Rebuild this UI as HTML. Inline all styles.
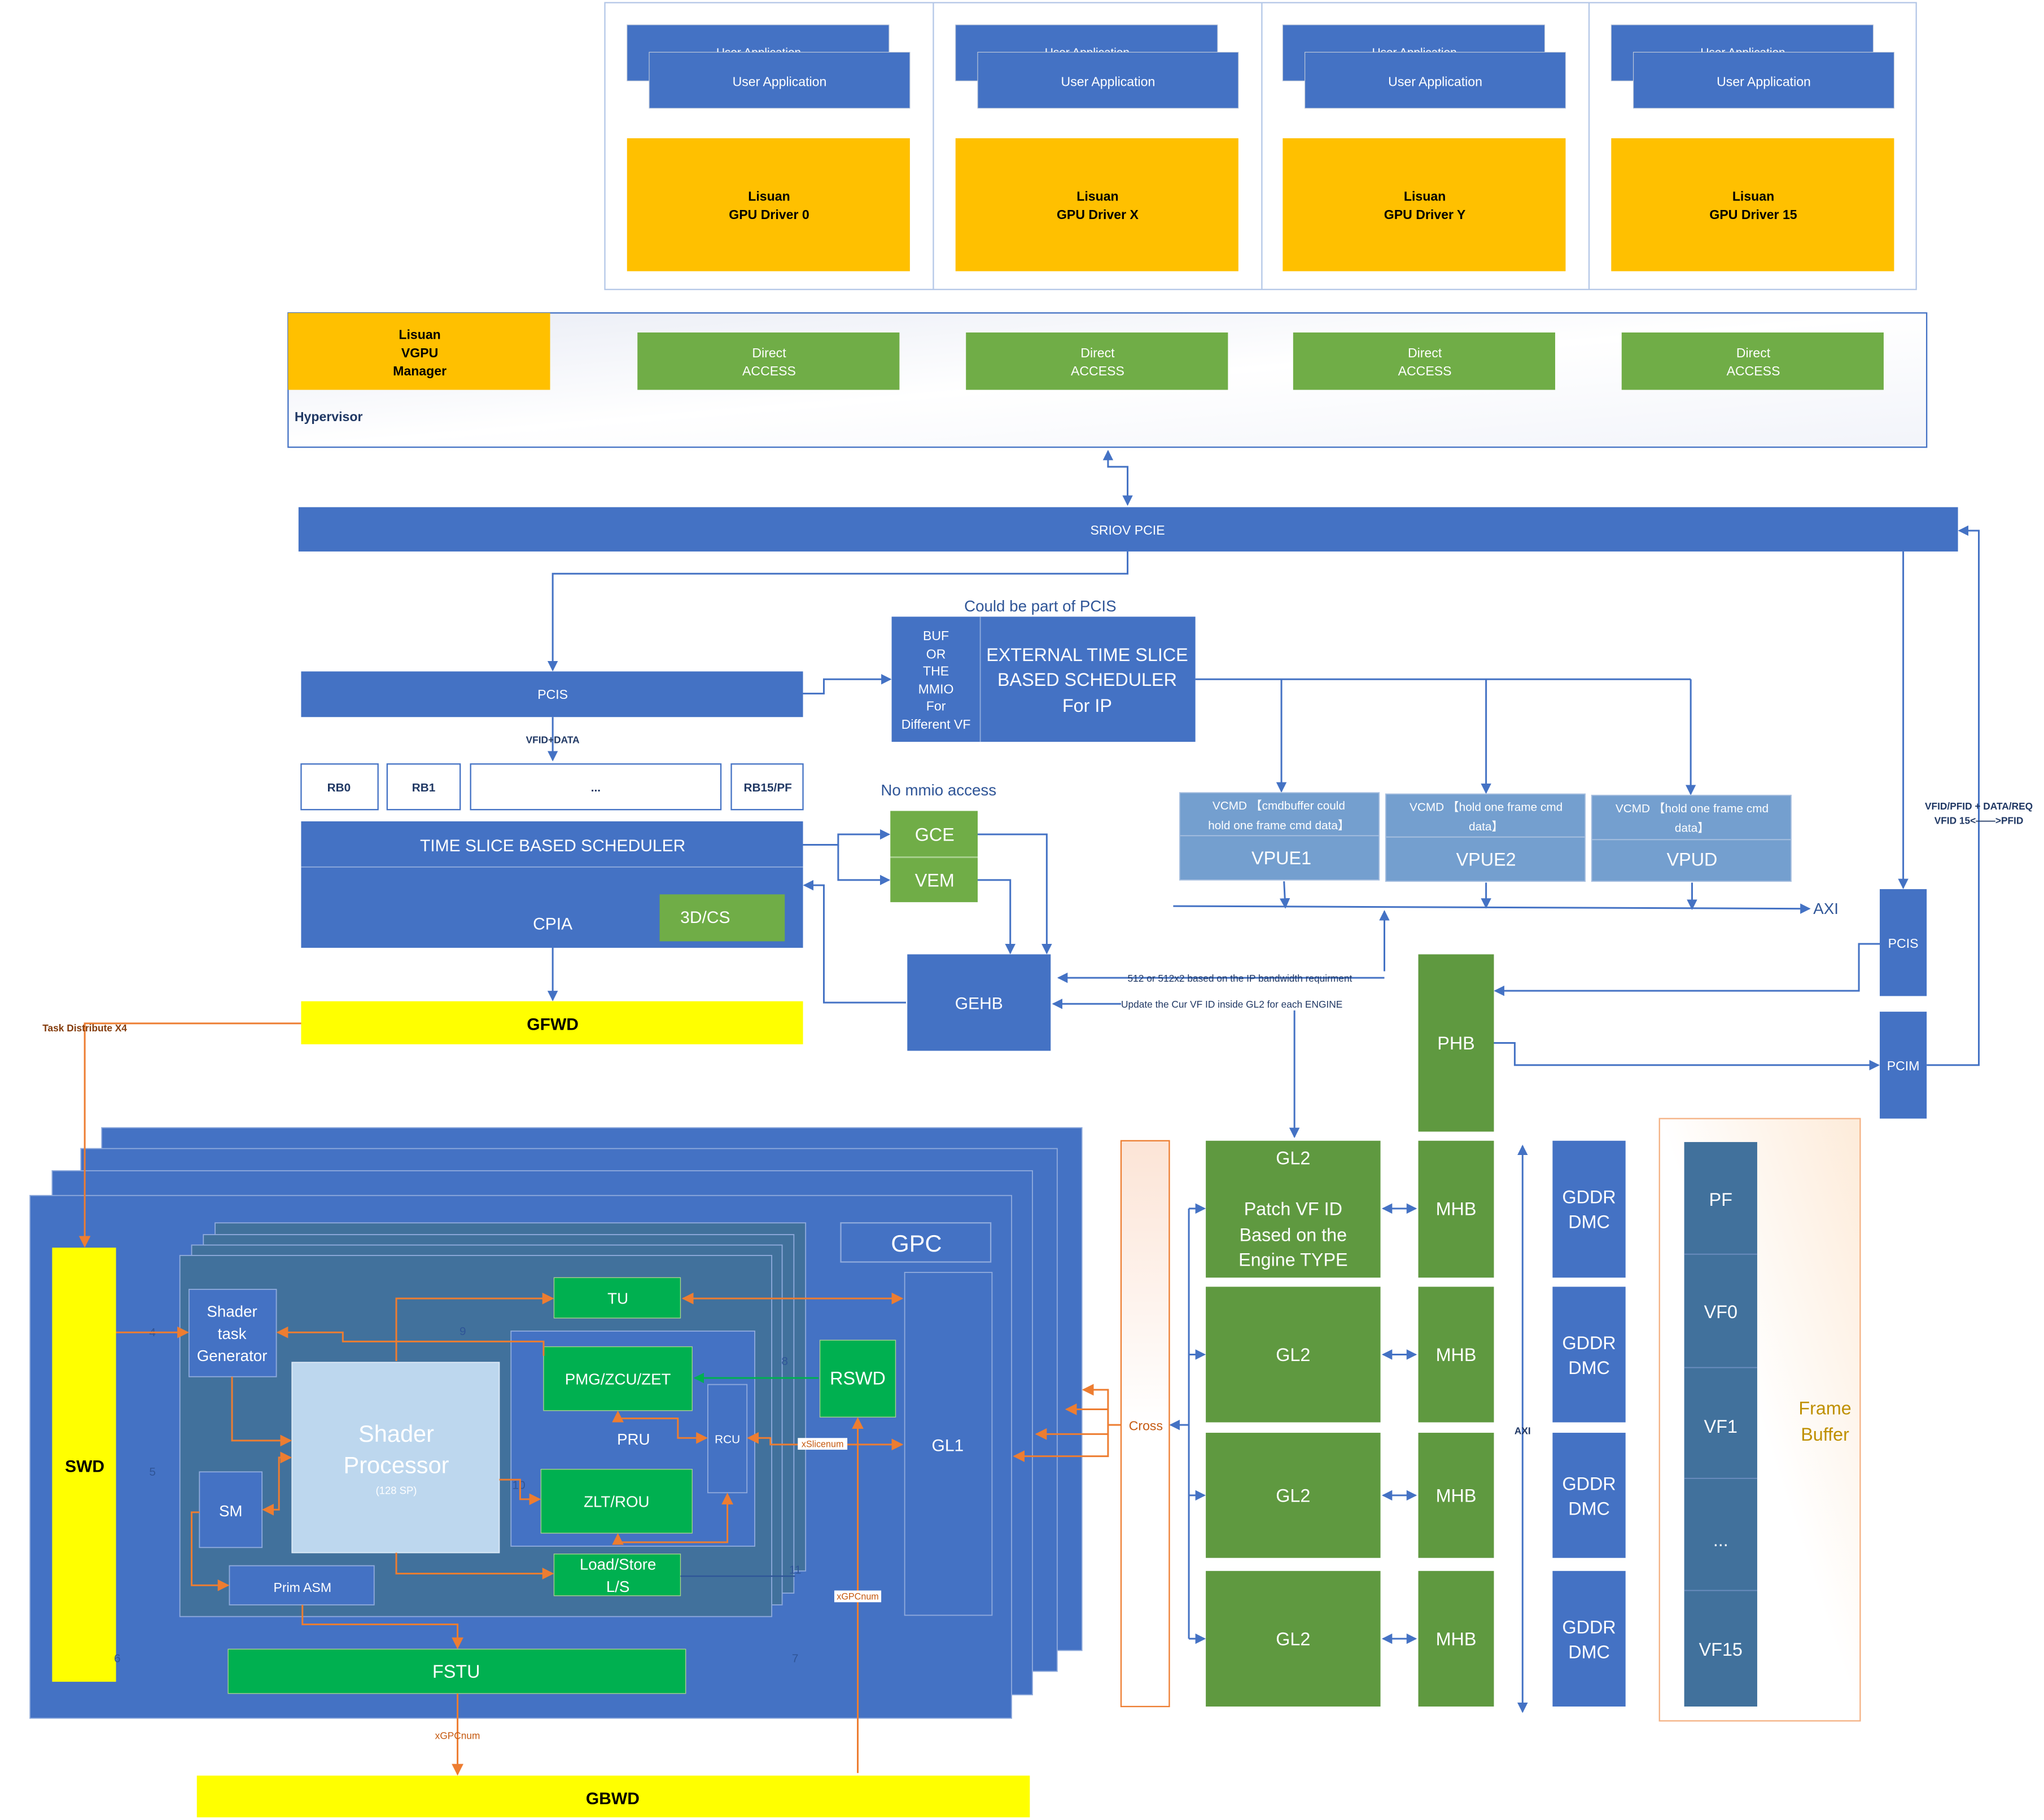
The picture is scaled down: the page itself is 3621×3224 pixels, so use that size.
<!DOCTYPE html>
<html><head><meta charset="utf-8"><style>html,body{margin:0;padding:0;background:#fff}svg{display:block}</style></head><body>
<svg xmlns="http://www.w3.org/2000/svg" width="3621" height="3224" viewBox="0 0 1568 1396" font-family="Liberation Sans, sans-serif">
<defs>
<marker id="ab" markerWidth="8" markerHeight="8" refX="7" refY="4" orient="auto" markerUnits="userSpaceOnUse"><path d="M0,0L8,4L0,8z" fill="#4472C4"/></marker>
<marker id="ao" markerWidth="9" markerHeight="9" refX="8" refY="4.5" orient="auto" markerUnits="userSpaceOnUse"><path d="M0,0L9,4.5L0,9z" fill="#ED7D31"/></marker>
<marker id="aos" markerWidth="9" markerHeight="9" refX="1" refY="4.5" orient="auto" markerUnits="userSpaceOnUse"><path d="M9,0L0,4.5L9,9z" fill="#ED7D31"/></marker>
<marker id="abs" markerWidth="8" markerHeight="8" refX="1" refY="4" orient="auto" markerUnits="userSpaceOnUse"><path d="M8,0L0,4L8,8z" fill="#4472C4"/></marker>
<marker id="ag" markerWidth="8" markerHeight="8" refX="7" refY="4" orient="auto" markerUnits="userSpaceOnUse"><path d="M0,0L8,4L0,8z" fill="#00B050"/></marker>
<linearGradient id="hv" x1="0" y1="0" x2="1" y2="1"><stop offset="0" stop-color="#E9ECF5"/><stop offset="0.5" stop-color="#fff"/><stop offset="1" stop-color="#F2F4FA"/></linearGradient>
<linearGradient id="cr" x1="0" y1="0" x2="0" y2="1"><stop offset="0" stop-color="#FCE4D6"/><stop offset="0.5" stop-color="#fff"/></linearGradient>
<linearGradient id="fb" x1="1" y1="0" x2="0" y2="1"><stop offset="0" stop-color="#FDEBD9"/><stop offset="0.5" stop-color="#fff"/></linearGradient>
</defs>

<!-- top -->
<rect x="464" y="2" width="1006" height="220" fill="#fff" stroke="#B4C7E7"/>
<g stroke="#B4C7E7"><line x1="716" y1="2" x2="716" y2="222"/><line x1="968" y1="2" x2="968" y2="222"/><line x1="1219" y1="2" x2="1219" y2="222"/></g>
<g id="col" font-size="10">
<rect x="481" y="19" width="201" height="43" fill="#4472C4" stroke="#BFC9D9" stroke-width="0.5"/>
<text x="582" y="43" fill="#fff" text-anchor="middle" font-size="9">User Application</text>
<rect x="498" y="40" width="200" height="43" fill="#4472C4" stroke="#BFC9D9" stroke-width="0.5"/>
<text x="598" y="66" fill="#fff" text-anchor="middle">User Application</text>
<rect x="481" y="106" width="217" height="102" fill="#FFC000"/>
</g>
<use href="#col" x="252"/><use href="#col" x="503"/><use href="#col" x="755"/>
<g font-size="10" font-weight="bold" text-anchor="middle">
<text x="590" y="154">Lisuan</text><text x="590" y="168">GPU Driver 0</text>
<text x="842" y="154">Lisuan</text><text x="842" y="168">GPU Driver X</text>
<text x="1093" y="154">Lisuan</text><text x="1093" y="168">GPU Driver Y</text>
<text x="1345" y="154">Lisuan</text><text x="1345" y="168">GPU Driver 15</text>
</g>

<!-- hypervisor -->
<rect x="221" y="240" width="1257" height="103" fill="url(#hv)" stroke="#4472C4"/>
<rect x="221" y="240" width="201" height="59" fill="#FFC000"/>
<g font-size="10" font-weight="bold" text-anchor="middle"><text x="322" y="260">Lisuan</text><text x="322" y="274">VGPU</text><text x="322" y="288">Manager</text></g>
<text x="226" y="323" font-size="10" font-weight="bold" fill="#203864">Hypervisor</text>
<g fill="#70AD47"><rect x="489" y="255" width="201" height="44"/><rect x="741" y="255" width="201" height="44"/><rect x="992" y="255" width="201" height="44"/><rect x="1244" y="255" width="201" height="44"/></g>
<g font-size="10" fill="#fff" text-anchor="middle">
<text x="590" y="274">Direct</text><text x="590" y="288">ACCESS</text>
<text x="842" y="274">Direct</text><text x="842" y="288">ACCESS</text>
<text x="1093" y="274">Direct</text><text x="1093" y="288">ACCESS</text>
<text x="1345" y="274">Direct</text><text x="1345" y="288">ACCESS</text></g>

<g fill="none" stroke="#4472C4" stroke-width="1.3">
<polyline points="850,346 850,358 865,358 865,387" marker-start="url(#abs)" marker-end="url(#ab)"/>
</g>

<!-- SRIOV -->
<rect x="229" y="389" width="1273" height="34" fill="#4472C4"/>
<text x="865" y="410" font-size="10" fill="#fff" text-anchor="middle">SRIOV PCIE</text>

<g fill="none" stroke="#4472C4" stroke-width="1.3">
<polyline points="865,423 865,440 424,440 424,514" marker-end="url(#ab)"/>
<line x1="424" y1="550" x2="424" y2="583" marker-end="url(#ab)"/>
<polyline points="616,532 632,532 632,521 683,521" marker-end="url(#ab)"/>
<polyline points="917,521 1297,521"/>
<line x1="983" y1="521" x2="983" y2="607" marker-end="url(#ab)"/>
<line x1="1140" y1="521" x2="1140" y2="608" marker-end="url(#ab)"/>
<line x1="1297" y1="521" x2="1297" y2="609" marker-end="url(#ab)"/>
<line x1="900" y1="695" x2="1388" y2="697" marker-end="url(#ab)"/>
<polyline points="985,676 986,696" marker-end="url(#ab)"/>
<polyline points="1140,677 1140,696" marker-end="url(#ab)"/>
<polyline points="1298,677 1298,697" marker-end="url(#ab)"/>
<polyline points="616,648 643,648 643,640 682,640" marker-end="url(#ab)"/>
<polyline points="643,648 643,675 682,675" marker-end="url(#ab)"/>
<polyline points="750,640 803,640 803,731" marker-end="url(#ab)"/>
<polyline points="750,675 775,675 775,731" marker-end="url(#ab)"/>
<polyline points="695,769 632,769 632,679 617,679" marker-end="url(#ab)"/>
<line x1="632" y1="679" x2="695" y2="769" stroke="none"/>
<line x1="424" y1="727" x2="424" y2="767" marker-end="url(#ab)"/>
<polyline points="1062,745 1062,699" marker-end="url(#ab)"/>
<line x1="1062" y1="750" x2="812" y2="750" marker-end="url(#ab)"/>
<line x1="860" y1="770" x2="808" y2="770" marker-end="url(#ab)"/>
<line x1="993" y1="775" x2="993" y2="872" marker-end="url(#ab)"/>
<line x1="1460" y1="423" x2="1460" y2="681" marker-end="url(#ab)"/>
<polyline points="1478,817 1518,817 1518,407 1503,407" marker-end="url(#ab)"/>
<polyline points="1442,724 1426,724 1426,760 1147,760" marker-end="url(#ab)"/>
<polyline points="1146,800 1162,800 1162,817 1441,817" marker-end="url(#ab)"/>
<line x1="1168" y1="879" x2="1168" y2="1313" marker-start="url(#abs)" marker-end="url(#ab)"/>
<line x1="1061" y1="927" x2="1086" y2="927" marker-start="url(#abs)" marker-end="url(#ab)"/>
<line x1="1061" y1="1039" x2="1086" y2="1039" marker-start="url(#abs)" marker-end="url(#ab)"/>
<line x1="1061" y1="1147" x2="1086" y2="1147" marker-start="url(#abs)" marker-end="url(#ab)"/>
<line x1="1061" y1="1257" x2="1086" y2="1257" marker-start="url(#abs)" marker-end="url(#ab)"/>
<line x1="912" y1="927" x2="912" y2="1257"/>
<line x1="912" y1="927" x2="924" y2="927" marker-end="url(#ab)"/>
<line x1="912" y1="1039" x2="924" y2="1039" marker-end="url(#ab)"/>
<line x1="912" y1="1147" x2="924" y2="1147" marker-end="url(#ab)"/>
<line x1="912" y1="1257" x2="924" y2="1257" marker-end="url(#ab)"/>
<line x1="912" y1="1093" x2="898" y2="1093" marker-end="url(#ab)"/>
</g>

<!-- PCIS & RB -->
<rect x="231" y="515" width="385" height="35" fill="#4472C4"/>
<text x="424" y="536" font-size="10" fill="#fff" text-anchor="middle">PCIS</text>
<text x="424" y="570" font-size="7.5" font-weight="bold" fill="#203864" text-anchor="middle">VFID+DATA</text>
<g fill="#fff" stroke="#4472C4"><rect x="231" y="586" width="59" height="35"/><rect x="297" y="586" width="56" height="35"/><rect x="361" y="586" width="192" height="35"/><rect x="561" y="586" width="55" height="35"/></g>
<g font-size="9" font-weight="bold" fill="#203864" text-anchor="middle"><text x="260" y="607">RB0</text><text x="325" y="607">RB1</text><text x="457" y="607">...</text><text x="589" y="607">RB15/PF</text></g>

<rect x="231" y="630" width="385" height="97" fill="#4472C4"/>
<line x1="231" y1="665" x2="616" y2="665" stroke="#8FAADC" stroke-width="0.8"/>
<text x="424" y="653" font-size="13" fill="#fff" text-anchor="middle">TIME SLICE BASED SCHEDULER</text>
<text x="424" y="713" font-size="13" fill="#fff" text-anchor="middle">CPIA</text>
<rect x="506" y="686" width="96" height="36" fill="#70AD47"/>
<text x="541" y="708" font-size="13" fill="#fff" text-anchor="middle">3D/CS</text>
<rect x="231" y="768" width="385" height="33" fill="#FFFF00"/>
<text x="424" y="790" font-size="13" font-weight="bold" text-anchor="middle">GFWD</text>

<text x="798" y="469" font-size="12" fill="#2F5597" text-anchor="middle">Could be part of PCIS</text>
<rect x="684" y="473" width="233" height="96" fill="#4472C4"/>
<line x1="752" y1="473" x2="752" y2="569" stroke="#8FAADC" stroke-width="0.8"/>
<g font-size="10" fill="#fff" text-anchor="middle"><text x="718" y="491">BUF</text><text x="718" y="505">OR</text><text x="718" y="518">THE</text><text x="718" y="532">MMIO</text><text x="718" y="545">For</text><text x="718" y="559">Different VF</text></g>
<g font-size="14" fill="#fff" text-anchor="middle"><text x="834" y="507">EXTERNAL TIME SLICE</text><text x="834" y="526">BASED SCHEDULER</text><text x="834" y="546">For IP</text></g>

<text x="720" y="610" font-size="12" fill="#2F5597" text-anchor="middle">No mmio access</text>
<rect x="683" y="622" width="67" height="35" fill="#70AD47"/><rect x="683" y="658" width="67" height="34" fill="#70AD47"/>
<line x1="683" y1="657.5" x2="750" y2="657.5" stroke="#A9D18E"/>
<text x="717" y="645" font-size="14" fill="#fff" text-anchor="middle">GCE</text>
<text x="717" y="680" font-size="14" fill="#fff" text-anchor="middle">VEM</text>
<rect x="696" y="732" width="110" height="74" fill="#4472C4"/>
<text x="751" y="774" font-size="13" fill="#fff" text-anchor="middle">GEHB</text>
<g font-size="7.5" fill="#203864"><text x="865" y="753">512 or 512x2 based on the IP bandwidth requirment</text><text x="860" y="773">Update the Cur VF ID inside GL2 for each ENGINE</text></g>

<!-- VPUE -->
<g fill="#749FCF" stroke="#A9C0E0" stroke-width="0.8">
<rect x="905" y="608" width="153" height="67"/><rect x="1063" y="609" width="153" height="67"/><rect x="1221" y="610" width="153" height="66"/></g>
<g stroke="#A9C0E0" stroke-width="0.8"><line x1="905" y1="641" x2="1058" y2="641"/><line x1="1063" y1="642" x2="1216" y2="642"/><line x1="1221" y1="644" x2="1374" y2="644"/></g>
<g font-size="9" fill="#fff" text-anchor="middle">
<text x="981" y="621">VCMD 【cmdbuffer could</text><text x="981" y="636">hold one frame cmd data】</text>
<text x="1140" y="622">VCMD 【hold one frame cmd</text><text x="1140" y="637">data】</text>
<text x="1298" y="623">VCMD 【hold one frame cmd</text><text x="1298" y="638">data】</text></g>
<g font-size="14" fill="#fff" text-anchor="middle"><text x="983" y="663">VPUE1</text><text x="1140" y="664">VPUE2</text><text x="1298" y="664">VPUD</text></g>
<text x="1391" y="701" font-size="12" fill="#2F5597">AXI</text>

<rect x="1442" y="682" width="36" height="82" fill="#4472C4"/><text x="1460" y="727" font-size="10" fill="#fff" text-anchor="middle">PCIS</text>
<rect x="1442" y="776" width="36" height="82" fill="#4472C4"/><text x="1460" y="821" font-size="10" fill="#fff" text-anchor="middle">PCIM</text>
<g font-size="7.5" font-weight="bold" fill="#203864" text-anchor="middle"><text x="1518" y="621">VFID/PFID + DATA/REQ</text><text x="1518" y="632">VFID 15&lt;——&gt;PFID</text></g>
<rect x="1088" y="732" width="58" height="136" fill="#5F9940"/><text x="1117" y="805" font-size="14" fill="#fff" text-anchor="middle">PHB</text>

<!-- GL2 / MHB / DMC -->
<g fill="#5F9940"><rect x="925" y="875" width="134" height="105"/><rect x="925" y="987" width="134" height="104"/><rect x="925" y="1099" width="134" height="96"/><rect x="925" y="1205" width="134" height="104"/>
<rect x="1088" y="875" width="58" height="105"/><rect x="1088" y="987" width="58" height="104"/><rect x="1088" y="1099" width="58" height="96"/><rect x="1088" y="1205" width="58" height="104"/></g>
<g font-size="14" fill="#fff" text-anchor="middle">
<text x="992" y="893">GL2</text><text x="992" y="932">Patch VF ID</text><text x="992" y="952">Based on the</text><text x="992" y="971">Engine TYPE</text>
<text x="992" y="1044">GL2</text><text x="992" y="1152">GL2</text><text x="992" y="1262">GL2</text>
<text x="1117" y="932">MHB</text><text x="1117" y="1044">MHB</text><text x="1117" y="1152">MHB</text><text x="1117" y="1262">MHB</text></g>
<text x="1168" y="1100" font-size="7.5" font-weight="bold" fill="#203864" text-anchor="middle">AXI</text>
<g fill="#4472C4"><rect x="1191" y="875" width="56" height="105"/><rect x="1191" y="987" width="56" height="104"/><rect x="1191" y="1099" width="56" height="96"/><rect x="1191" y="1205" width="56" height="104"/></g>
<g font-size="14" fill="#fff" text-anchor="middle">
<text x="1219" y="923">GDDR</text><text x="1219" y="942">DMC</text><text x="1219" y="1035">GDDR</text><text x="1219" y="1054">DMC</text>
<text x="1219" y="1143">GDDR</text><text x="1219" y="1162">DMC</text><text x="1219" y="1253">GDDR</text><text x="1219" y="1272">DMC</text></g>

<rect x="1273" y="858" width="154" height="462" fill="url(#fb)" stroke="#F4B183"/>
<rect x="1292" y="876" width="56" height="433" fill="#41719C"/>
<g stroke="#6C8EBF" stroke-width="0.8"><line x1="1292" y1="962" x2="1348" y2="962"/><line x1="1292" y1="1049" x2="1348" y2="1049"/><line x1="1292" y1="1134" x2="1348" y2="1134"/><line x1="1292" y1="1220" x2="1348" y2="1220"/></g>
<g font-size="14" fill="#fff" text-anchor="middle"><text x="1320" y="925">PF</text><text x="1320" y="1011">VF0</text><text x="1320" y="1099">VF1</text><text x="1320" y="1186">...</text><text x="1320" y="1270">VF15</text></g>
<g font-size="14" fill="#BF9000" text-anchor="middle"><text x="1400" y="1085">Frame</text><text x="1400" y="1105">Buffer</text></g>

<rect x="860" y="875" width="37" height="434" fill="url(#cr)" stroke="#ED7D31"/>
<text x="879" y="1097" font-size="10" fill="#C55A11" text-anchor="middle">Cross</text>

<!-- GPC stack -->
<g fill="#4472C4" stroke="#8FAADC" stroke-width="0.8">
<rect x="78" y="865" width="752" height="401"/><rect x="62" y="881" width="749" height="401"/><rect x="40" y="898" width="752" height="402"/><rect x="23" y="917" width="753" height="401"/></g>
<rect x="40" y="957" width="49" height="333" fill="#FFFF00"/>
<text x="65" y="1129" font-size="13" font-weight="bold" text-anchor="middle">SWD</text>
<rect x="645" y="938" width="115" height="30" fill="none" stroke="#8FAADC"/>
<text x="703" y="960" font-size="18" fill="#fff" text-anchor="middle">GPC</text>
<g fill="#41719C" stroke="#8FAADC" stroke-width="0.8">
<rect x="165" y="938" width="453" height="267"/><rect x="156" y="947" width="453" height="275"/><rect x="147" y="955" width="453" height="276"/><rect x="138" y="963" width="454" height="277"/></g>
<rect x="694" y="976" width="67" height="263" fill="#4472C4" stroke="#8FAADC" stroke-width="0.8"/>
<text x="727" y="1113" font-size="13" fill="#fff" text-anchor="middle">GL1</text>
<rect x="145" y="989" width="67" height="67" fill="#4472C4" stroke="#8FAADC" stroke-width="0.8"/>
<g font-size="12" fill="#fff" text-anchor="middle"><text x="178" y="1010">Shader</text><text x="178" y="1027">task</text><text x="178" y="1044">Generator</text></g>
<rect x="224" y="1045" width="159" height="146" fill="#BDD7EE" stroke="#DEEBF7" stroke-width="0.8"/>
<g fill="#fff" text-anchor="middle"><text x="304" y="1106" font-size="18">Shader</text><text x="304" y="1130" font-size="18">Processor</text><text x="304" y="1146" font-size="8">(128 SP)</text></g>
<rect x="153" y="1129" width="48" height="58" fill="#4472C4" stroke="#8FAADC" stroke-width="0.8"/>
<text x="177" y="1163" font-size="12" fill="#fff" text-anchor="middle">SM</text>
<rect x="176" y="1201" width="111" height="30" fill="#4472C4" stroke="#8FAADC" stroke-width="0.8"/>
<text x="232" y="1221" font-size="10" fill="#fff" text-anchor="middle">Prim ASM</text>
<rect x="392" y="1021" width="187" height="165" fill="#4472C4" stroke="#8FAADC" stroke-width="0.8"/>
<text x="486" y="1108" font-size="12" fill="#fff" text-anchor="middle">PRU</text>
<g fill="#00B050" stroke="#A9D18E" stroke-width="0.6">
<rect x="425" y="980" width="97" height="31"/><rect x="417" y="1033" width="114" height="49"/><rect x="415" y="1127" width="116" height="49"/><rect x="425" y="1192" width="97" height="32"/><rect x="629" y="1028" width="58" height="59"/><rect x="175" y="1265" width="351" height="34"/></g>
<rect x="543" y="1062" width="30" height="83" fill="#4472C4" stroke="#8FAADC" stroke-width="0.8"/>
<g font-size="12" fill="#fff" text-anchor="middle">
<text x="474" y="1000">TU</text><text x="474" y="1062">PMG/ZCU/ZET</text><text x="473" y="1156">ZLT/ROU</text>
<text x="474" y="1204">Load/Store</text><text x="474" y="1221">L/S</text><text x="658" y="1062" font-size="14">RSWD</text>
<text x="350" y="1287" font-size="14">FSTU</text><text x="558" y="1107" font-size="9">RCU</text></g>
<g font-size="9" fill="#2F5597" text-anchor="middle"><text x="117" y="1025">4</text><text x="355" y="1024">9</text><text x="117" y="1132">5</text><text x="602" y="1047">8</text><text x="398" y="1142">10</text><text x="610" y="1207">11</text><text x="90" y="1275">6</text><text x="610" y="1275">7</text></g>
<rect x="151" y="1362" width="639" height="32" fill="#FFFF00"/>
<text x="470" y="1384" font-size="13" font-weight="bold" text-anchor="middle">GBWD</text>

<!-- orange connectors -->
<g fill="none" stroke="#ED7D31" stroke-width="1.3">
<polyline points="231,785 65,785 65,956" marker-end="url(#ao)"/>
<line x1="89" y1="1022" x2="144" y2="1022" marker-end="url(#ao)"/>
<polyline points="417,1040 417,1029 263,1029 263,1022 213,1022" marker-end="url(#ao)"/>
<polyline points="304,1044 304,996 424,996" marker-end="url(#ao)"/>
<line x1="524" y1="996" x2="692" y2="996" marker-start="url(#aos)" marker-end="url(#ao)"/>
<polyline points="178,1056 178,1105 223,1105" marker-end="url(#ao)"/>
<polyline points="202,1158 214,1158 214,1118 223,1118" marker-start="url(#aos)" marker-end="url(#ao)"/>
<polyline points="153,1160 147,1160 147,1216 175,1216" marker-end="url(#ao)"/>
<polyline points="383,1135 399,1135 399,1150 414,1150" marker-end="url(#ao)"/>
<polyline points="474,1083 474,1088 520,1088 520,1103 542,1103" marker-start="url(#aos)" marker-end="url(#ao)"/>
<polyline points="558,1146 558,1183 474,1183 474,1177" marker-start="url(#aos)" marker-end="url(#ao)"/>
<polyline points="304,1191 304,1207 424,1207" marker-end="url(#ao)"/>
<polyline points="574,1103 591,1103 591,1108 692,1108" marker-start="url(#aos)" marker-end="url(#ao)"/>
<line x1="658" y1="1360" x2="658" y2="1088" marker-end="url(#ao)"/>
<polyline points="232,1231 232,1246 351,1246 351,1264" marker-end="url(#ao)"/>
<line x1="351" y1="1299" x2="351" y2="1361" marker-end="url(#ao)"/>
<polyline points="860,1093 850,1093 850,1066 831,1066" marker-end="url(#ao)"/>
<polyline points="850,1081 818,1081" marker-end="url(#ao)"/>
<polyline points="850,1093 850,1100 795,1100" marker-end="url(#ao)"/>
<polyline points="850,1100 850,1117 778,1117" marker-end="url(#ao)"/>
</g>
<line x1="628" y1="1057" x2="533" y2="1057" stroke="#00B050" stroke-width="1.3" marker-end="url(#ag)"/>
<line x1="522" y1="1209" x2="610" y2="1209" stroke="#2F5597" stroke-width="1"/>
<rect x="612" y="1103" width="38" height="9" fill="#fff"/><text x="631" y="1110" font-size="7" fill="#C55A11" text-anchor="middle">xSlicenum</text>
<rect x="640" y="1220" width="36" height="9" fill="#fff"/><text x="658" y="1227" font-size="7" fill="#C55A11" text-anchor="middle">xGPCnum</text>
<text x="351" y="1334" font-size="7.5" fill="#C55A11" text-anchor="middle">xGPCnum</text>
<text x="65" y="791" font-size="7.5" font-weight="bold" fill="#843C0C" text-anchor="middle">Task Distribute X4</text>
</svg>
</body></html>
